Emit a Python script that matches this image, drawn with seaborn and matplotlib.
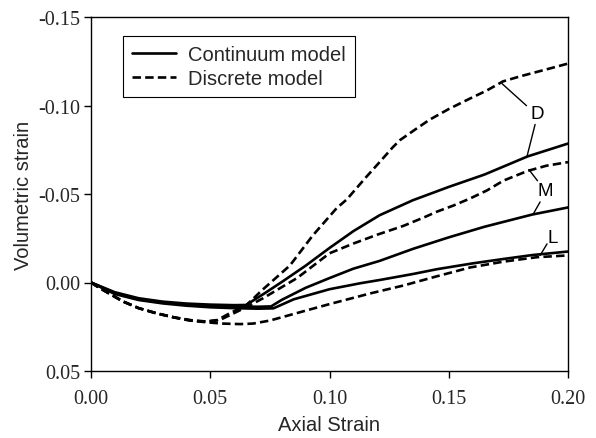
import matplotlib
matplotlib.use("Agg")
import matplotlib.pyplot as plt
import seaborn as sns
import pandas as pd

# Continuum model (solid) curves for D, M, L
d_cont_x = [0, 0.01, 0.02, 0.03, 0.04, 0.05, 0.06, 0.065, 0.072, 0.08, 0.09, 0.10, 0.11,
            0.121, 0.135, 0.15, 0.165, 0.183, 0.20]
d_cont_y = [0, 0.0055, 0.0089, 0.0108, 0.0119, 0.0125, 0.0128, 0.0127, 0.0068, -0.0003,
            -0.0095, -0.0195, -0.029, -0.038, -0.0465, -0.054, -0.061, -0.0712, -0.0785]

m_cont_x = [0, 0.01, 0.02, 0.03, 0.04, 0.05, 0.06, 0.07, 0.0755, 0.08, 0.09, 0.10, 0.11,
            0.121, 0.135, 0.15, 0.165, 0.185, 0.20]
m_cont_y = [0, 0.006, 0.0094, 0.0113, 0.0124, 0.0131, 0.0135, 0.0137, 0.0135, 0.0098,
            0.003, -0.0025, -0.0078, -0.0122, -0.019, -0.0255, -0.0315, -0.0384, -0.0424]

l_cont_x = [0, 0.01, 0.02, 0.03, 0.04, 0.05, 0.06, 0.07, 0.0765, 0.085, 0.10, 0.113,
            0.121, 0.135, 0.145, 0.16, 0.173, 0.185, 0.20]
l_cont_y = [0, 0.0065, 0.0099, 0.0118, 0.0131, 0.014, 0.0145, 0.0148, 0.0146, 0.0095,
            0.0038, 0.0004, -0.0014, -0.0048, -0.0075, -0.0108, -0.0133, -0.0155, -0.0175]

# Discrete model (dashed) curves for D, M, L
d_disc_x = [0, 0.004, 0.0134, 0.02, 0.0277, 0.035, 0.042, 0.048, 0.053, 0.058, 0.065,
            0.072, 0.0834, 0.093, 0.103, 0.1073, 0.115, 0.121, 0.1266, 0.1296, 0.136,
            0.142, 0.15, 0.159, 0.166, 0.1727, 0.18, 0.187, 0.194, 0.20]
d_disc_y = [0, 0.0034, 0.0107, 0.0145, 0.0175, 0.0197, 0.0213, 0.022, 0.0212, 0.0175,
            0.013, 0.004, -0.0096, -0.0266, -0.042, -0.047, -0.059, -0.068, -0.0765,
            -0.0805, -0.0865, -0.092, -0.098, -0.104, -0.1085, -0.1136, -0.1165, -0.119,
            -0.1215, -0.1237]

m_disc_x = [0, 0.004, 0.0134, 0.02, 0.0277, 0.035, 0.042, 0.0486, 0.054, 0.058, 0.065,
            0.072, 0.0864, 0.10, 0.11, 0.12, 0.131, 0.14, 0.145, 0.152, 0.159, 0.166,
            0.173, 0.183, 0.191, 0.20]
m_disc_y = [0, 0.0034, 0.0107, 0.0145, 0.0175, 0.0198, 0.0215, 0.0222, 0.0212, 0.0186,
            0.014, 0.009, -0.0025, -0.0165, -0.022, -0.027, -0.032, -0.037, -0.040,
            -0.0435, -0.0475, -0.052, -0.0576, -0.063, -0.066, -0.068]

l_disc_x = [0, 0.004, 0.0134, 0.02, 0.0277, 0.035, 0.0415, 0.0486, 0.055, 0.0625, 0.068,
            0.075, 0.0876, 0.10, 0.117, 0.131, 0.145, 0.159, 0.173, 0.187, 0.20]
l_disc_y = [0, 0.0034, 0.0107, 0.0145, 0.0175, 0.0198, 0.0215, 0.0225, 0.0232, 0.0235,
            0.0232, 0.0215, 0.0168, 0.0122, 0.0062, 0.0017, -0.0035, -0.0085, -0.0118,
            -0.0143, -0.0153]

x_ticks = [0.00, 0.05, 0.10, 0.15, 0.20]
y_ticks = [-0.15, -0.10, -0.05, 0.00, 0.05]

# Curve labels and their leader lines (x, y in data units)
label_text = ["D", "M", "L"]
label_pos = [(0.1870, -0.0955), (0.1904, -0.0520), (0.1937, -0.0254)]
leaders = [
    [((0.1723, -0.1124), (0.1826, -0.0999)), ((0.1862, -0.0893), (0.1828, -0.0712))],
    [((0.1836, -0.0638), (0.1872, -0.0575)), ((0.1883, -0.0455), (0.1853, -0.0384))],
    [((0.1912, -0.0218), (0.1883, -0.0153))],
]

sns.set_theme(style="ticks")
plt.rcParams["axes.unicode_minus"] = False
sans = "Liberation Sans"
serif = "Liberation Serif"

fig = plt.figure(figsize=(5.96, 4.39), dpi=100)
ax = fig.add_axes([91 / 596, 1 - 372 / 439, 477 / 596, 354 / 439])

line_kw = dict(color="black", linewidth=1.9, estimator=None, sort=False, ax=ax)
dash_style = (0, (3.2, 1.6))

curves = [
    (d_cont_x, d_cont_y, "-", "Continuum model"),
    (m_cont_x, m_cont_y, "-", None),
    (l_cont_x, l_cont_y, "-", None),
    (d_disc_x, d_disc_y, dash_style, "Discrete model"),
    (m_disc_x, m_disc_y, dash_style, None),
    (l_disc_x, l_disc_y, dash_style, None),
]
for xs, ys, ls, lab in curves:
    df = pd.DataFrame({"axial": xs, "vol": ys})
    sns.lineplot(data=df, x="axial", y="vol", linestyle=ls, label=lab, **line_kw)

for txt, (tx, ty), segs in zip(label_text, label_pos, leaders):
    ax.text(tx, ty, txt, ha="center", va="center", fontsize=13.5, family=sans, color="black")
    for (x0, y0), (x1, y1) in segs:
        ax.plot([x0, x1], [y0, y1], color="black", linewidth=1.0)

ax.set_xlim(0, 0.20)
ax.set_ylim(0.05, -0.15)
ax.set_xticks(x_ticks)
ax.set_yticks(y_ticks)
ax.set_xticklabels([f"{v:.2f}" for v in x_ticks], fontsize=14.5, family=serif)
ax.set_yticklabels([f"{v:.2f}" for v in y_ticks], fontsize=14.5, family=serif)
ax.tick_params(direction="out", length=5, width=1.0, color="black",
               top=False, right=False)
ax.tick_params(axis="x", pad=8)
ax.tick_params(axis="y", pad=2.5)
for s in ax.spines.values():
    s.set_visible(True)
    s.set_color("black")
    s.set_linewidth(1.0)

ax.set_xlabel("Axial Strain", fontsize=14.5, family=sans, labelpad=5)
ax.set_ylabel("Volumetric strain", fontsize=14.5, family=sans, labelpad=4)

leg = ax.legend(loc="upper left", bbox_to_anchor=(0.067, 0.946), frameon=True,
                fancybox=False, framealpha=1, edgecolor="black",
                prop={"family": sans, "size": 14.5}, handlelength=2.2,
                handletextpad=0.6, borderpad=0.45, labelspacing=0.22,
                borderaxespad=0)
leg.get_frame().set_linewidth(0.8)

fig.savefig("out.png", dpi=100)
